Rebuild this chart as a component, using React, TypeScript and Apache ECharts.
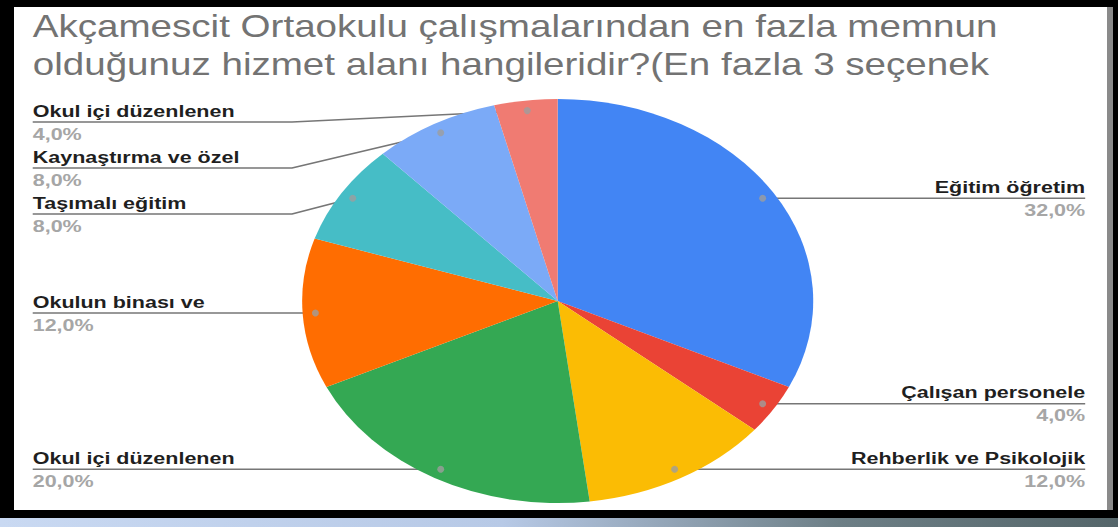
import React, { useEffect, useRef } from "react";
import * as echarts from "echarts";

const titleLines = [
  "Akçamescit Ortaokulu çalışmalarından en fazla memnun",
  "olduğunuz hizmet alanı hangileridir?(En fazla 3 seçenek",
];
const categories = [
  "Eğitim öğretim",
  "Çalışan personele",
  "Rehberlik ve Psikolojik",
  "Okul içi düzenlenen",
  "Okulun binası ve",
  "Taşımalı eğitim",
  "Kaynaştırma ve özel",
  "Okul içi düzenlenen",
];
const values = [32, 4, 12, 20, 12, 8, 8, 4];
const colors = ["#4285f4", "#ea4335", "#fbbc04", "#34a853", "#ff6d01", "#46bdc6", "#7baaf7", "#f07b72"];

const STRETCH = 1.265;
const CX = 429;
const CY = 294;
const R = 202;
const DOT_R = 0.95;
const LH = 23;
const FONT = "Arial, 'Liberation Sans', Helvetica, sans-serif";

export default function App() {
  const ref = useRef<HTMLDivElement>(null);
  useEffect(() => {
    const chart = echarts.init(ref.current!, null, { renderer: "svg" });
    const total = values.reduce((a, b) => a + b, 0);
    let cum = 0;
    const info = values.map((v) => {
      const mid = (cum + v / 2) / total;
      cum += v;
      const th = mid * 2 * Math.PI;
      return {
        mid: mid * 100,
        dotX: CX + R * DOT_R * Math.sin(th),
        dotY: CY - R * DOT_R * Math.cos(th),
        left: Math.sin(th) < 0,
      };
    });
    // vertical placement of label blocks, kept inside the pie's vertical extent
    const H = LH * 2;
    const labelY: number[] = new Array(values.length);
    [true, false].forEach((side) => {
      const idx = info
        .map((_, i) => i)
        .filter((i) => info[i].left === side)
        .sort((a, b) => info[a].dotY - info[b].dotY);
      let prev = -Infinity;
      idx.forEach((i) => {
        const y = Math.max(info[i].dotY, prev + H, CY - R + H / 2);
        labelY[i] = y;
        prev = y;
      });
    });
    const dots = info.map((d) => [DOT_R, d.mid]);

    chart.setOption({
      animation: false,
      title: {
        text: titleLines.join("\n"),
        left: 14,
        top: 0,
        padding: 0,
        textStyle: {
          fontFamily: FONT,
          fontSize: 30.5,
          fontWeight: "normal",
          color: "#737373",
          lineHeight: 38,
        },
      },
      polar: { center: [CX, CY], radius: R },
      angleAxis: { type: "value", min: 0, max: 100, startAngle: 90, clockwise: true, show: false },
      radiusAxis: { type: "value", min: 0, max: 1, show: false },
      series: [
        {
          type: "pie",
          center: [CX, CY],
          radius: R,
          startAngle: 90,
          clockwise: true,
          percentPrecision: 1,
          z: 2,
          itemStyle: { borderWidth: 0 },
          data: categories.map((n, i) => ({ name: n, value: values[i], itemStyle: { color: colors[i] } })),
          label: {
            alignTo: "edge",
            edgeDistance: 14,
            formatter: (p: any) => `{n|${p.name}}\n{p|${p.percent.toFixed(1).replace(".", ",")}%}`,
            rich: {
              n: { fontFamily: FONT, fontSize: 17, fontWeight: "bold", color: "#1f1f1f", lineHeight: LH },
              p: { fontFamily: FONT, fontSize: 17, fontWeight: "bold", color: "#a6a6a6", lineHeight: LH },
            },
          },
          labelLine: { show: true, length: -10, length2: 0, lineStyle: { color: "#767676", width: 1.5 } },
          labelLayout: (params: any) => {
            const i = params.dataIndex;
            const d = info[i];
            if (!d) return {};
            const rect = params.labelRect;
            const ly = labelY[i];
            const far = d.left ? rect.x : rect.x + rect.width;
            let points;
            if (Math.abs(ly - d.dotY) < 2) {
              points = [[d.dotX, ly], [far, ly]];
            } else {
              const bend = d.left ? CX - R - 8 : CX + R + 8;
              points = [[d.dotX, d.dotY], [bend, ly], [far, ly]];
            }
            return { y: ly, labelLinePoints: points };
          },
        },
        {
          type: "scatter",
          coordinateSystem: "polar",
          data: dots,
          symbolSize: [5.5, 7],
          itemStyle: { color: "#9e9e9e" },
          z: 5,
          silent: true,
        },
      ],
    });
    return () => chart.dispose();
  }, []);

  return (
    <div
      style={{
        position: "fixed",
        left: 0,
        top: 0,
        width: 1118,
        height: 527,
        background: "#000",
        overflow: "hidden",
      }}
    >
      <div
        style={{
          position: "absolute",
          left: 0,
          top: 518,
          width: 1118,
          height: 9,
          background: "linear-gradient(90deg, #c9d9f2 0%, #b7c9e6 45%, #6d7f86 75%, #55666a 100%)",
        }}
      />
      <div style={{ position: "absolute", left: 1107, top: 7, width: 6, height: 503, background: "#8a8a8a" }} />
      <div style={{ position: "absolute", left: 14, top: 7, width: 1093, height: 503, background: "#fff" }} />
      <div
        ref={ref}
        style={{
          position: "absolute",
          left: 15.3,
          top: 7,
          width: 860,
          height: 503,
          transform: `scaleX(${STRETCH})`,
          transformOrigin: "0 0",
        }}
      />
    </div>
  );
}
